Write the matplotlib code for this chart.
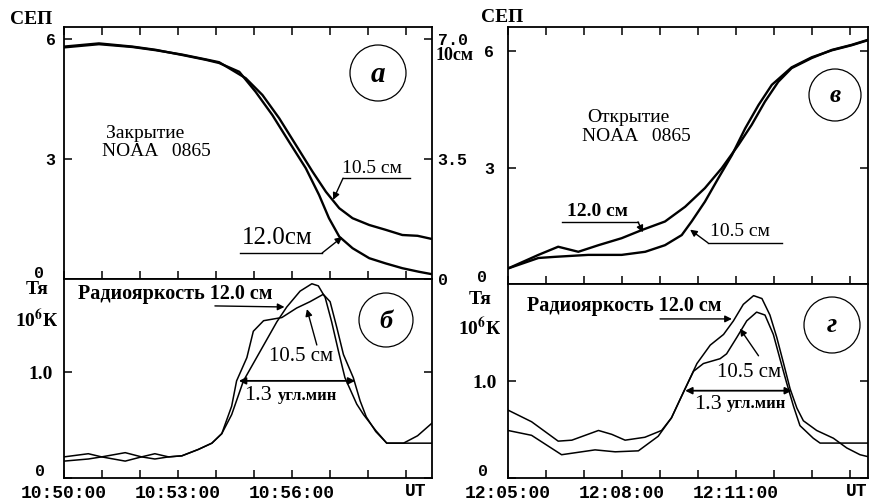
import matplotlib
matplotlib.use("Agg")
import matplotlib.pyplot as plt
from matplotlib.patches import Circle

plt.rcParams["font.family"] = ["Liberation Serif", "DejaVu Serif"]
plt.rcParams["mathtext.fontset"] = "stix"

# ---- data (time in minutes from start of record) ----
# а: occultation (closing), flux in SFU
a_t120 = [0, 0.92, 1.8, 2.41, 3.11, 3.73, 4.08, 4.61, 5.04, 5.48, 5.92, 6.36, 6.71, 6.97, 7.24, 7.59, 8.03, 8.46, 8.9, 9.34, 9.68]
a_v120 = [5.81, 5.89, 5.81, 5.73, 5.6, 5.48, 5.4, 5.18, 4.68, 4.1, 3.43, 2.77, 2.1, 1.52, 1.06, 0.77, 0.52, 0.39, 0.27, 0.18, 0.12]
a_t105 = [0, 0.92, 1.8, 2.41, 3.11, 3.73, 4.08, 4.78, 5.22, 5.66, 6.1, 6.54, 6.89, 7.24, 7.59, 8.03, 8.46, 8.9, 9.3, 9.68]
a_v105 = [5.79, 5.87, 5.8, 5.72, 5.61, 5.49, 5.42, 5.02, 4.6, 4.02, 3.35, 2.68, 2.18, 1.77, 1.52, 1.35, 1.23, 1.1, 1.08, 1.0]

# б: brightness temperature, 10^6 K
b_t120 = [0, 0.64, 0.99, 1.61, 2.04, 2.39, 2.75, 3.1, 3.53, 3.89, 4.15, 4.41, 4.72, 5.16, 5.6, 5.86, 6.21, 6.52, 6.69, 6.87, 7.04, 7.22, 7.39, 7.7, 7.88, 8.2, 8.49, 8.93, 9.3, 9.68]
b_v120 = [0.16, 0.18, 0.20, 0.24, 0.20, 0.18, 0.20, 0.21, 0.27, 0.33, 0.42, 0.60, 0.92, 1.20, 1.48, 1.62, 1.77, 1.84, 1.82, 1.71, 1.48, 1.20, 0.95, 0.70, 0.60, 0.45, 0.33, 0.33, 0.40, 0.52]
b_t105 = [0, 0.64, 0.99, 1.61, 2.04, 2.39, 2.75, 3.1, 3.53, 3.89, 4.15, 4.41, 4.54, 4.81, 4.98, 5.25, 5.73, 6.12, 6.47, 6.82, 7.0, 7.18, 7.35, 7.61, 7.79, 7.95, 8.2, 8.49, 8.93, 9.68]
b_v105 = [0.20, 0.23, 0.20, 0.16, 0.20, 0.23, 0.20, 0.21, 0.27, 0.33, 0.42, 0.68, 0.92, 1.14, 1.39, 1.49, 1.52, 1.61, 1.67, 1.74, 1.67, 1.42, 1.17, 0.95, 0.73, 0.58, 0.44, 0.33, 0.33, 0.33]

# в: opening, flux in SFU
c_t120 = [0, 0.8, 1.32, 1.85, 2.38, 2.99, 3.52, 4.13, 4.66, 5.18, 5.62, 6.06, 6.41, 6.76, 7.11, 7.46, 7.99, 8.52, 9.04, 9.47]
c_v120 = [0.40, 0.75, 0.96, 0.83, 1.0, 1.18, 1.39, 1.61, 1.99, 2.47, 2.98, 3.58, 4.10, 4.70, 5.21, 5.56, 5.82, 6.03, 6.16, 6.29]
c_t105 = [0, 0.8, 1.24, 2.11, 2.99, 3.61, 4.13, 4.57, 4.83, 5.18, 5.53, 5.89, 6.24, 6.59, 6.94, 7.46, 7.99, 8.52, 9.04, 9.47]
c_v105 = [0.40, 0.67, 0.70, 0.75, 0.75, 0.83, 1.0, 1.26, 1.61, 2.12, 2.72, 3.32, 4.01, 4.61, 5.13, 5.58, 5.84, 6.02, 6.15, 6.28]

# г: brightness temperature, 10^6 K
d_t120 = [0, 0.62, 1.32, 1.68, 2.38, 2.73, 3.08, 3.6, 4.04, 4.3, 4.61, 4.97, 5.32, 5.67, 5.93, 6.19, 6.46, 6.68, 6.89, 7.07, 7.25, 7.42, 7.6, 7.77, 8.12, 8.56, 8.91, 9.26, 9.47]
d_v120 = [0.70, 0.58, 0.38, 0.39, 0.49, 0.45, 0.39, 0.42, 0.49, 0.62, 0.88, 1.18, 1.37, 1.48, 1.62, 1.79, 1.88, 1.85, 1.68, 1.45, 1.18, 0.92, 0.72, 0.59, 0.49, 0.41, 0.31, 0.24, 0.22]
d_t105 = [0, 0.62, 1.41, 2.29, 2.82, 3.43, 3.95, 4.3, 4.61, 4.88, 5.14, 5.58, 5.75, 6.02, 6.28, 6.54, 6.76, 6.98, 7.16, 7.33, 7.51, 7.68, 8.03, 8.21, 8.6, 9.0, 9.47]
d_v105 = [0.49, 0.44, 0.24, 0.29, 0.27, 0.28, 0.43, 0.62, 0.88, 1.10, 1.18, 1.23, 1.28, 1.45, 1.62, 1.71, 1.68, 1.48, 1.22, 0.98, 0.74, 0.54, 0.41, 0.36, 0.36, 0.36, 0.36]

left_labels = ["10:50:00", "", "", "10:53:00", "", "", "10:56:00", "", "", ""]
right_labels = ["12:05:00", "", "", "12:08:00", "", "", "12:11:00", "", "", ""]

W, H = 869, 501
fig = plt.figure(figsize=(W / 100, H / 100), dpi=100)


def box(x0, y0, x1, y1):
    return [x0 / W, 1 - y1 / H, (x1 - x0) / W, (y1 - y0) / H]


def ftext(x, y, s, **kw):
    kw.setdefault("ha", "center")
    kw.setdefault("va", "center")
    fig.text(x / W, 1 - y / H, s, **kw)


def circle(x, y, r, letter, size):
    fig.add_artist(Circle((x / 100, (H - y) / 100), r / 100, transform=fig.dpi_scale_trans,
                          fill=False, lw=0.9, ec="black"))
    ftext(x, y + 1, letter, fontsize=size, fontweight="bold", fontstyle="italic")


ax_a = fig.add_axes(box(64, 27, 432, 279))
ax_b = fig.add_axes(box(64, 279, 432, 478))
ax_c = fig.add_axes(box(508, 27, 868, 284))
ax_d = fig.add_axes(box(508, 284, 868, 478))

mono = dict(family="Liberation Mono", weight="bold")

for ax in (ax_a, ax_b, ax_c, ax_d):
    for s in ax.spines.values():
        s.set_linewidth(1.3)
    ax.set_xticks(range(10))
    ax.tick_params(direction="in", length=5.5, width=1.1, colors="black")

ax_a.set_xlim(0, 9.68)
ax_b.set_xlim(0, 9.68)
ax_c.set_xlim(0, 9.47)
ax_d.set_xlim(0, 9.47)
ax_a.set_ylim(0, 6.3)
ax_b.set_ylim(0, 1.885)
ax_c.set_ylim(0, 6.62)
ax_d.set_ylim(0, 2.0)

for ax in (ax_a, ax_c):
    ax.tick_params(top=True, bottom=True, right=True, labelbottom=False)
for ax in (ax_b, ax_d):
    ax.tick_params(top=False, bottom=True, right=True, pad=5)

ax_b.set_xticklabels(left_labels, fontsize=13, **mono)
ax_d.set_xticklabels(right_labels, fontsize=13, **mono)

# curves
ax_a.plot(a_t120, a_v120, color="black", lw=1.7)
ax_a.plot(a_t105, a_v105, color="black", lw=1.7)
ax_b.plot(b_t120, b_v120, color="black", lw=1.1)
ax_b.plot(b_t105, b_v105, color="black", lw=1.1)
ax_c.plot(c_t120, c_v120, color="black", lw=1.7)
ax_c.plot(c_t105, c_v105, color="black", lw=1.7)
ax_d.plot(d_t120, d_v120, color="black", lw=1.1)
ax_d.plot(d_t105, d_v105, color="black", lw=1.1)

# y ticks
ax_a.set_yticks([3, 6], ["3", "6"], fontsize=12, **mono)
ax_a.tick_params(axis="y", pad=6, labelright=False)
ax_c.set_yticks([3, 6], ["3", "6"], fontsize=12, **mono)
ax_c.tick_params(axis="y", pad=10, labelright=False)

tw = ax_a.twinx()
tw.set_ylim(0, 6.3 * 7 / 6)
tw.set_yticks([0, 3.5, 7.0], ["0", "3.5", "7.0"], fontsize=12, **mono)
tw.tick_params(direction="in", length=5.5, width=1.1, pad=4)
for s in tw.spines.values():
    s.set_visible(False)

ax_b.set_yticks([0, 1.0], ["", "1.0"], fontsize=14, fontweight="bold")
ax_d.set_yticks([0, 1.0], ["", "1.0"], fontsize=14, fontweight="bold")
for ax in (ax_b, ax_d):
    ax.tick_params(axis="y", labelright=False, pad=8)

# zero labels placed by hand so they clear the time labels
ftext(39, 273, "0", fontsize=12, **mono)
ftext(482, 277, "0", fontsize=12, **mono)
ftext(40, 471, "0", fontsize=12, **mono)
ftext(483, 471, "0", fontsize=12, **mono)

# axis titles
ftext(31, 20, "СЕП", fontsize=14, fontweight="bold")
ftext(502, 18, "СЕП", fontsize=14, fontweight="bold")
ftext(455, 56, "10см", fontsize=13, fontweight="bold")
ftext(37, 290, "Тя", fontsize=14, fontweight="bold")
ftext(37, 320, "10$^{\\mathbf{6}}$К", fontsize=14, fontweight="bold")
ftext(480, 299, "Тя", fontsize=14, fontweight="bold")
ftext(480, 328, "10$^{\\mathbf{6}}$К", fontsize=14, fontweight="bold")
ftext(416, 491, "UT", fontsize=13, **mono)
ftext(857, 491, "UT", fontsize=13, **mono)

# panel captions
ax_a.text(2.13, 3.65, "Закрытие", fontsize=14, ha="center", va="center")
ax_a.text(2.42, 3.2, "NOAA   0865", fontsize=14, ha="center", va="center")
ax_c.text(3.16, 4.28, "Открытие", fontsize=14, ha="center", va="center")
ax_c.text(3.37, 3.81, "NOAA   0865", fontsize=14, ha="center", va="center")

arr = dict(arrowstyle="-|>", color="black", lw=1.0, mutation_scale=10, shrinkA=0, shrinkB=0)
ln = dict(color="black", lw=1.0)

# а labels
ax_a.text(8.1, 2.76, "10.5 см", fontsize=14, ha="center", va="center")
ax_a.plot([7.34, 9.1], [2.52, 2.52], **ln)
ax_a.annotate("", xy=(7.08, 1.98), xytext=(7.34, 2.52), arrowprops=arr)
ax_a.text(5.62, 1.03, "12.0см", fontsize=18, ha="center", va="center")
ax_a.plot([4.63, 6.79], [0.65, 0.65], **ln)
ax_a.annotate("", xy=(7.32, 1.05), xytext=(6.79, 0.65), arrowprops=arr)

# в labels
ax_c.text(2.34, 1.86, "12.0 см", fontsize=14, fontweight="bold", ha="center", va="center")
ax_c.plot([1.42, 3.42], [1.6, 1.6], **ln)
ax_c.annotate("", xy=(3.55, 1.33), xytext=(3.42, 1.6), arrowprops=arr)
ax_c.text(6.1, 1.34, "10.5 см", fontsize=14, ha="center", va="center")
ax_c.plot([5.26, 7.21], [1.06, 1.06], **ln)
ax_c.annotate("", xy=(4.79, 1.4), xytext=(5.26, 1.06), arrowprops=arr)

# б labels
ax_b.text(0.37, 1.74, "Радиояркость 12.0 см", fontsize=14.5, fontweight="bold", ha="left", va="center")
ax_b.annotate("", xy=(5.8, 1.62), xytext=(3.97, 1.63), arrowprops=arr)
ax_b.text(6.24, 1.15, "10.5 см", fontsize=15, ha="center", va="center")
ax_b.annotate("", xy=(6.39, 1.6), xytext=(6.65, 1.26), arrowprops=arr)
ax_b.annotate("", xy=(4.6, 0.92), xytext=(7.66, 0.92),
              arrowprops=dict(arrowstyle="<|-|>", color="black", lw=1.3, mutation_scale=10, shrinkA=0, shrinkB=0))
ax_b.text(5.1, 0.78, "1.3", fontsize=16, ha="center", va="center")
ax_b.text(6.4, 0.78, "угл.мин", fontsize=12, fontweight="bold", ha="center", va="center")

# г labels
ax_d.text(0.5, 1.77, "Радиояркость 12.0 см", fontsize=14.5, fontweight="bold", ha="left", va="center")
ax_d.annotate("", xy=(5.89, 1.64), xytext=(4.0, 1.64), arrowprops=arr)
ax_d.text(6.34, 1.09, "10.5 см", fontsize=15, ha="center", va="center")
ax_d.annotate("", xy=(6.1, 1.54), xytext=(6.59, 1.26), arrowprops=arr)
ax_d.annotate("", xy=(4.66, 0.9), xytext=(7.47, 0.9),
              arrowprops=dict(arrowstyle="<|-|>", color="black", lw=1.3, mutation_scale=10, shrinkA=0, shrinkB=0))
ax_d.text(5.27, 0.76, "1.3", fontsize=16, ha="center", va="center")
ax_d.text(6.55, 0.76, "угл.мин", fontsize=12, fontweight="bold", ha="center", va="center")

circle(378, 73, 28, "а", 21)
circle(386, 320, 27, "б", 19)
circle(835, 95, 26, "в", 18)
circle(832, 325, 28, "г", 20)

fig.savefig("out.png", dpi=100)
